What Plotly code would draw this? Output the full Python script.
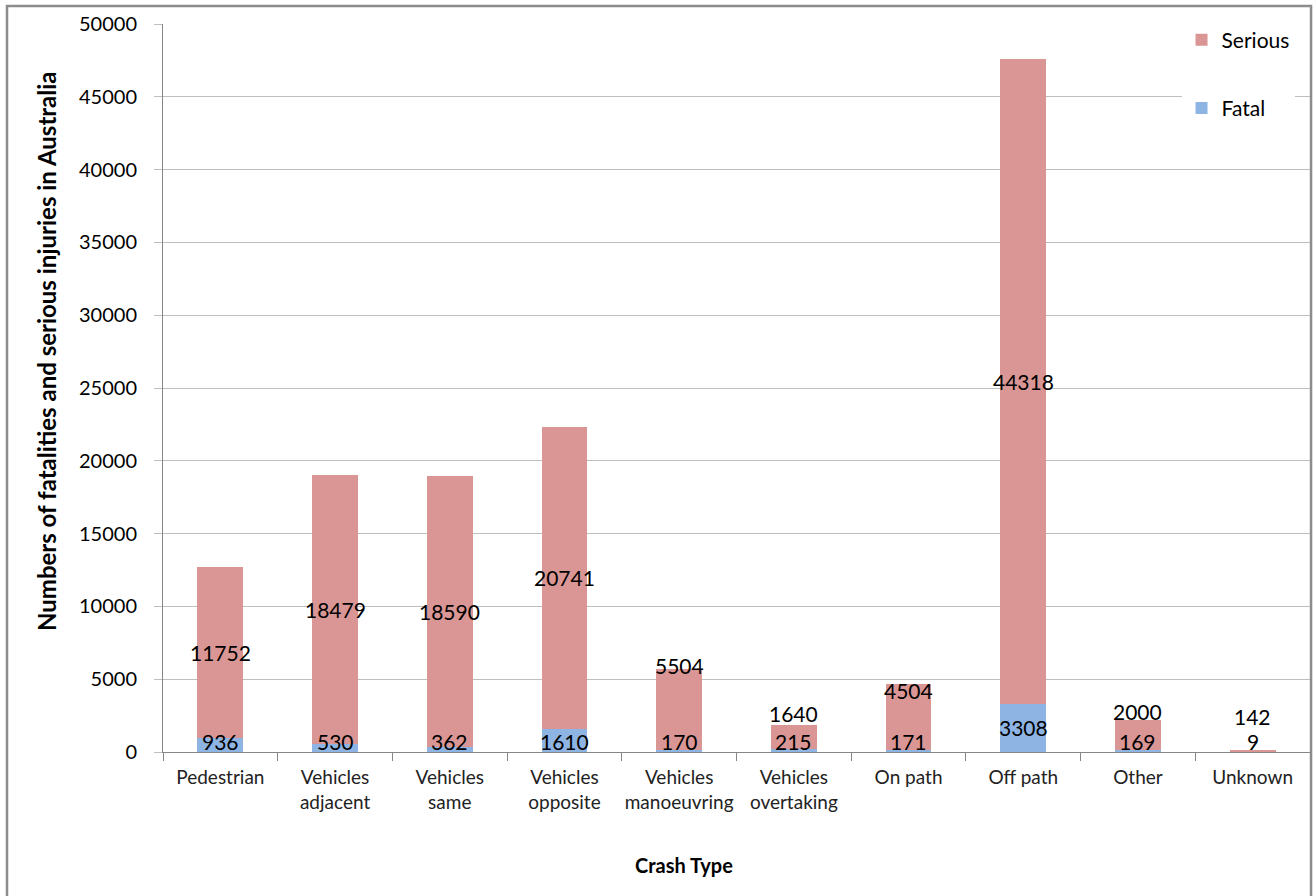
import plotly.graph_objects as go

# Crash types (axis categories, two-line labels)
categories = [
    "Pedestrian", "Vehicles<br>adjacent", "Vehicles<br>same", "Vehicles<br>opposite",
    "Vehicles<br>manoeuvring", "Vehicles<br>overtaking", "On path", "Off path",
    "Other", "Unknown",
]
fatal = [936, 530, 362, 1610, 170, 215, 171, 3308, 169, 9]
serious = [11752, 18479, 18590, 20741, 5504, 1640, 4504, 44318, 2000, 142]

# Pixel nudges for the serious labels that sit near the top of short bars
serious_label_shift = {4: 4, 5: 11, 6: -7, 8: 9, 9: 33}

FONT = "Lato"
FATAL_COLOR = "#8EB4E3"
SERIOUS_COLOR = "#D99694"
AXIS_GREY = "#868686"
GRID_GREY = "#BEBEBE"

fig = go.Figure()
fig.add_trace(go.Bar(
    x=categories, y=fatal, name="Fatal", marker_color=FATAL_COLOR,
    marker_line_width=0, legendgroup="fatal", legendrank=2,
))
fig.add_trace(go.Bar(
    x=categories, y=serious, name="Serious", marker_color=SERIOUS_COLOR,
    marker_line_width=0, legendgroup="serious", legendrank=1,
))

annotations = []
label_font = dict(family=FONT, size=21, color="#000000")
for i, cat in enumerate(categories):
    f, s = fatal[i], serious[i]
    # fatal value: centred in its segment when tall enough, otherwise on the baseline
    if f > 2000:
        annotations.append(dict(x=cat, y=f / 2, text=str(f), showarrow=False,
                                yanchor="middle", font=label_font))
    else:
        annotations.append(dict(x=cat, y=0, text=str(f), showarrow=False,
                                yanchor="bottom", yshift=-4, font=label_font))
    # serious value: centred in its segment, or by the bar top for short bars
    if i in serious_label_shift:
        annotations.append(dict(x=cat, y=f + s, text=str(s), showarrow=False,
                                yanchor="middle", yshift=serious_label_shift[i],
                                font=label_font))
    else:
        annotations.append(dict(x=cat, y=f + s / 2, text=str(s), showarrow=False,
                                yanchor="middle", font=label_font))

# axis titles
annotations.append(dict(
    xref="paper", yref="paper", x=0.454, y=-0.155, yanchor="middle",
    text="<b>Crash Type</b>", showarrow=False,
    font=dict(family=FONT, size=20, color="#000000"),
))
annotations.append(dict(
    xref="paper", yref="paper", x=-0.101, y=0.551, xanchor="center",
    yanchor="middle", textangle=-90,
    text="<b>Numbers of fatalities and serious injuries in Australia</b>",
    showarrow=False, font=dict(family=FONT, size=24, color="#000000"),
))

fig.update_layout(
    barmode="stack",
    bargap=0.6,
    width=1314, height=896,
    margin=dict(l=163, r=4, t=24, b=144, autoexpand=False),
    paper_bgcolor="white",
    plot_bgcolor="white",
    font=dict(family=FONT, color="#000000"),
    annotations=annotations,
    legend=dict(
        x=0.888, xanchor="left", y=1.006, yanchor="top",
        bgcolor="white", tracegroupgap=38,
        font=dict(family=FONT, size=21, color="#000000"),
    ),
    shapes=[dict(
        type="rect", xref="paper", yref="paper",
        x0=-0.136, x1=1.0009, y0=-0.21, y1=1.0247,
        line=dict(color="#8C8C8C", width=2.5), layer="below",
    )],
)

fig.update_xaxes(
    type="category", automargin=False,
    showline=True, linecolor=AXIS_GREY, linewidth=1,
    ticks="outside", tickson="boundaries", ticklen=8, tickcolor=AXIS_GREY,
    tickangle=0,
    tickfont=dict(family=FONT, size=19, color="#222222"),
    ticklabelstandoff=8,
    showgrid=False,
)
fig.update_yaxes(
    range=[0, 50000], dtick=5000, tick0=0, tickformat="d", automargin=False,
    showline=True, linecolor=AXIS_GREY, linewidth=1,
    ticks="outside", ticklen=8, tickcolor=GRID_GREY,
    showgrid=True, gridcolor=GRID_GREY, gridwidth=1,
    zeroline=False,
    tickfont=dict(family=FONT, size=20, color="#000000"),
    ticklabelstandoff=13,
)

fig.write_html("out.html")
